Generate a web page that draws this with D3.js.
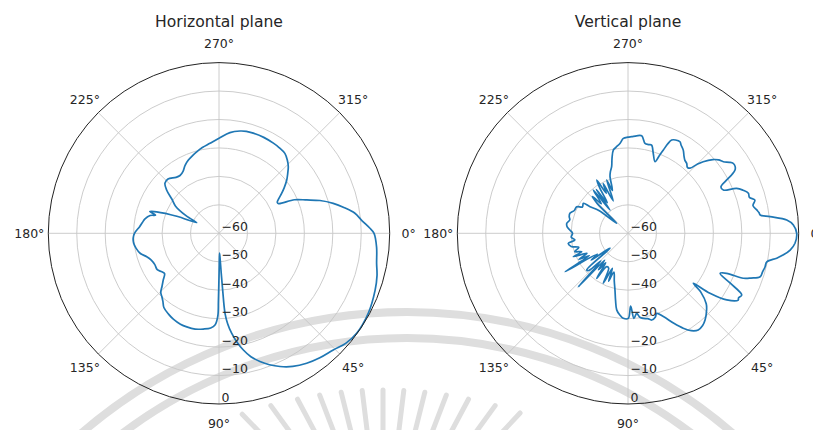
<!DOCTYPE html>
<html>
<head>
<meta charset="utf-8">
<script src="https://cdn.jsdelivr.net/npm/d3@7"></script>
<style>
  html, body { margin: 0; padding: 0; background: #fff; }
  svg { display: block; font-family: "DejaVu Sans", sans-serif; }
</style>
</head>
<body>
<svg id="chart" width="813" height="430"></svg>
<script>
// Radiation pattern, horizontal plane: angle (deg, clockwise from 0°) and gain (dB)
const hAngles = [0, 5, 10.8, 15, 20, 28, 36, 41, 45.6, 51, 56, 61, 65.4, 69, 72.3, 75.5, 78.2, 80.8, 82.8, 84.5,
  85.7, 86.3, 86.8, 87.5, 88.5, 89.5, 90.2, 90.5, 90.8, 92.5, 95, 99.3, 104, 109, 113, 117.8, 122, 126.6, 129.5, 132,
  134.5, 137, 140, 143.5, 146, 149.5, 154, 158.4, 162, 165.8, 169.7, 173.3, 177, 180, 184.8, 188, 191, 194.5, 196, 197.5,
  199, 202, 205.5, 208, 212, 216, 219.6, 222.8, 226.8, 232.4, 236, 239.9, 243.5, 247.3, 251, 254.7, 259, 264.3, 270, 276.2,
  281.6, 285, 288.9, 295, 301.1, 305, 309.5, 313, 316.1, 319, 321.8, 325, 327.5, 330, 332, 333.5, 336, 339.2, 342, 345.3,
  348.5, 351.5, 355, 358];
const hGain = [-5.5, -4.4, -3.6, -2.5, -1.6, -0.5, -0.2, -1.0, -2.6, -3.7, -4.9, -6.5, -8.5, -10.5, -12.7, -15.2, -18.1, -21.5, -24.6, -28,
  -31.8, -40, -46, -51, -53, -49, -42, -36, -31, -27.7, -26.6, -25.9, -25.3, -25.2, -25.3, -25.8, -26.5, -27.5, -29, -30,
  -30.8, -32.6, -34.4, -36.2, -35.8, -34.8, -34.9, -34.4, -33.3, -31.4, -30.4, -29.8, -29.8, -30.3, -32, -32.8, -33.5, -35, -36.8, -34.5,
  -36.8, -44, -51.3, -47, -42, -39.5, -36.1, -34.1, -33.8, -35.2, -35.5, -34.8, -33.3, -32.1, -31.2, -30.3, -29.3, -28.2, -26.6, -24.4,
  -23.3, -22.9, -22.8, -22.8, -23.0, -23.2, -23.6, -24.8, -26.2, -28, -29.7, -32, -33.9, -35.8, -36.8, -36.6, -31, -27, -22.7, -18.5,
  -15, -11.8, -9.5, -7];

// Radiation pattern, vertical plane
const vAngles = [0, 3.4, 5.9, 8, 9.5, 11.6, 13.7, 16, 18.2, 20, 21.3, 22.1, 23.5, 26, 28.5, 30.3, 31.2, 34, 36.2, 37.4,
  39, 42, 44.3, 48.4, 51, 54, 57, 59.8, 63, 67, 70.3, 72, 74.7, 77, 79.8, 82, 83.8, 86, 87.9, 89.8,
  93.2, 96, 98.4, 100.5, 102.9, 106, 110, 112, 114, 116.3, 119, 122.5, 124.8, 127, 129, 131, 132.9, 134.5, 136.5, 138.4,
  140.2, 141.9, 144, 146, 148.6, 150, 152, 154, 156.8, 158.3, 161, 164, 167, 170.5, 172.8, 176, 180, 183, 186, 189.3,
  193, 196, 199, 203, 207.4, 210, 213.9, 215, 218, 221.5, 224, 226, 228, 231.3, 232.3, 234, 236, 238, 239.6, 241.5,
  243.5, 245.5, 248.2, 250, 252.4, 254, 256.2, 258, 260, 262, 265, 267.2, 270, 272.2, 275, 278, 280.7, 283, 285, 287.5,
  290.7, 292, 293, 294, 295.1, 297, 299.6, 301, 303.6, 306, 308, 310, 312, 313.6, 315, 316.4, 319, 321, 323.1, 325,
  326.4, 328, 329.4, 330.5, 331.8, 333.5, 335.6, 337.5, 339.5, 341.6, 343.5, 345.3, 347.5, 349.7, 351, 352.1, 353.3, 355.2, 357.1];
const vGain = [-0.7, -1.2, -2.7, -5, -7, -10.2, -10.4, -10.8, -11.1, -14, -16.5, -22.6, -24.7, -20, -14.5, -15.0, -14.7, -18.1, -24.3, -31.1,
  -27, -23, -21.4, -19.2, -18.3, -18, -19.2, -21.4, -24.5, -28.2, -30.1, -29, -28.4, -29.2, -29.6, -30.2, -31.7, -30, -34.4, -30.1,
  -30.1, -31.3, -32.8, -36, -39.5, -42.5, -45.5, -41.8, -46.5, -40.4, -46, -46.1, -40.7, -47, -43.5, -47.5, -34.3, -46.4, -41, -40.6,
  -51.8, -50.5, -44, -47, -34.1, -44.3, -40.5, -44, -39.1, -42.5, -40.2, -42, -39.5, -38.7, -41.2, -40, -40.5, -39.6, -38.5, -38.2,
  -39, -38.5, -38.4, -39.5, -39.7, -41.5, -41.1, -43.7, -47, -54.7, -45, -42, -46, -40.5, -49.7, -41, -47, -41.5, -38.3, -44,
  -40.5, -47.5, -39.8, -44, -39.1, -37.5, -35.9, -33, -30.3, -29.5, -28.2, -26.6, -26.2, -26, -25.6, -25.4, -27.8, -28, -27.9, -30.5,
  -33.1, -30.5, -28.2, -25.5, -23.8, -23.2, -23, -23.8, -24.9, -26.5, -27.5, -27.9, -28.8, -28.4, -25.8, -23.5, -20.5, -19, -18.1, -16.5,
  -15.6, -15.6, -16.3, -18, -21, -23.5, -23.2, -18.7, -16.8, -15.4, -15.5, -13.9, -15, -14, -13.4, -13.1, -9.7, -4, -1.8];

const radialTicks = [-60, -50, -40, -30, -20, -10, 0];
const angleTicks = [0, 45, 90, 135, 180, 225, 270, 315];
const panelTitles = ["Horizontal plane", "Vertical plane"];

if (hAngles.length !== hGain.length || vAngles.length !== vGain.length) {
  throw new Error("series length mismatch");
}

const svg = d3.select("#chart");
const cy = 233.3;
const R = 170.7;
const panelX = [219, 628];
const textColor = "#262626";
const fmt = d3.format("d"); // d3 uses the typographic minus sign

// faint seal in the background
const seal = svg.append("g").attr("fill", "none").attr("stroke", "#dedede");
seal.selectAll("circle")
  .data([498, 472])
  .join("circle")
  .attr("cx", 407).attr("cy", 810).attr("r", d => d)
  .attr("stroke-width", 8);
const rayAngles = [-44, -36, -28, -21, -14, -7, 0, 7, 14, 21, 28, 36, 43];
const rayC = [383, 560];
seal.selectAll("line")
  .data(rayAngles)
  .join("line")
  .attr("stroke-width", 5)
  .attr("stroke-linecap", "round")
  .each(function (a) {
    const t = a * Math.PI / 180;
    const d0 = 170 / Math.cos(0.75 * t);
    const d1 = d0 - 50;
    d3.select(this)
      .attr("x1", rayC[0] + d0 * Math.sin(t)).attr("y1", rayC[1] - d0 * Math.cos(t))
      .attr("x2", rayC[0] + d1 * Math.sin(t)).attr("y2", rayC[1] - d1 * Math.cos(t));
  });

function drawPanel(cx, title, angles, gains) {
  const g = svg.append("g");
  const r = d3.scaleLinear().domain([-60, 0]).range([0, R]);
  const toRad = a => a * Math.PI / 180;

  // circular grid
  g.selectAll("circle.grid")
    .data(radialTicks.filter(t => t > -60 && t < 0))
    .join("circle")
    .attr("class", "grid")
    .attr("cx", cx).attr("cy", cy).attr("r", d => r(d))
    .attr("fill", "none").attr("stroke", "#c6c6c6").attr("stroke-width", 0.9);

  // angular grid
  g.selectAll("line.spoke")
    .data(angleTicks)
    .join("line")
    .attr("class", "spoke")
    .attr("x1", cx).attr("y1", cy)
    .attr("x2", d => cx + R * Math.cos(toRad(d)))
    .attr("y2", d => cy + R * Math.sin(toRad(d)))
    .attr("stroke", "#c6c6c6").attr("stroke-width", 0.9);

  // pattern line (theta zero at east, clockwise)
  const pts = angles.map((a, i) => ({ a, v: gains[i] }));
  const line = d3.lineRadial()
    .angle(d => toRad(d.a + 90))
    .radius(d => r(d.v))
    .curve(d3.curveCatmullRomClosed.alpha(0.5));
  g.append("path")
    .attr("d", line(pts))
    .attr("transform", `translate(${cx},${cy})`)
    .attr("fill", "none")
    .attr("stroke", "#1f77b4")
    .attr("stroke-width", 1.7)
    .attr("stroke-linejoin", "round");

  // outer frame
  g.append("circle")
    .attr("cx", cx).attr("cy", cy).attr("r", R)
    .attr("fill", "none").attr("stroke", "#222").attr("stroke-width", 1);

  // angle labels
  g.selectAll("text.theta")
    .data(angleTicks)
    .join("text")
    .attr("class", "theta")
    .attr("x", d => cx + (R + 19) * Math.cos(toRad(d)))
    .attr("y", d => cy + (R + 19) * Math.sin(toRad(d)))
    .attr("text-anchor", "middle")
    .attr("dominant-baseline", "central")
    .attr("font-size", 12.5)
    .attr("fill", textColor)
    .text(d => d + "°");

  // radial labels along the 90° spoke
  g.selectAll("text.rlabel")
    .data(radialTicks)
    .join("text")
    .attr("class", "rlabel")
    .attr("x", cx + 2.5)
    .attr("y", d => cy + r(d) - 2.5)
    .attr("font-size", 12.5)
    .attr("fill", textColor)
    .text(d => fmt(d));

  // title
  g.append("text")
    .attr("x", cx).attr("y", 27)
    .attr("text-anchor", "middle")
    .attr("font-size", 15.6)
    .attr("fill", textColor)
    .text(title);
}

drawPanel(panelX[0], panelTitles[0], hAngles, hGain);
drawPanel(panelX[1], panelTitles[1], vAngles, vGain);
</script>
</body>
</html>
